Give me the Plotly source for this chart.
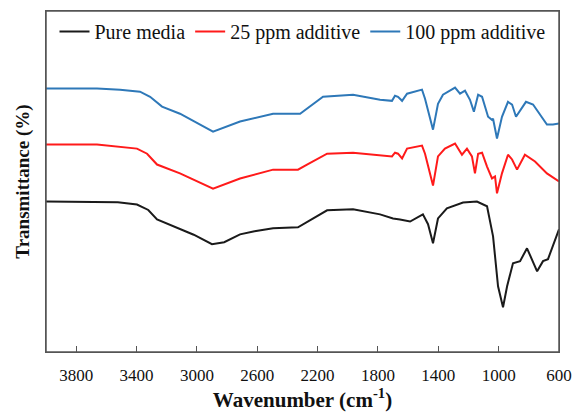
import plotly.graph_objects as go

# Wavenumber (cm-1) and transmittance (arbitrary %, offset curves)
pure_wn = [4000, 3642, 3524, 3397, 3322, 3264, 3158, 3021, 2900, 2819, 2714, 2618, 2495, 2330, 2137, 1965, 1786,
           1700, 1654, 1587, 1502, 1468, 1435, 1402, 1343, 1236, 1144, 1077, 1037, 1004, 971, 944, 905, 858, 812,
           745, 706, 673, 600]
pure_t = [43.8, 43.8, 43.6, 42.9, 41.3, 38.5, 36.5, 34.0, 31.2, 31.8, 34.1, 35.0, 35.9, 36.2, 41.2, 41.5, 40.0,
          38.8, 38.5, 37.9, 40.0, 37.1, 31.5, 38.8, 41.8, 43.5, 43.8, 42.4, 33.5, 18.8, 12.6, 18.8, 25.6, 26.2, 30.0,
          23.2, 26.2, 26.8, 35.6]

ppm25_wn = [4000, 3662, 3397, 3330, 3264, 3112, 2893, 2714, 2495, 2330, 2270, 2137, 1965, 1786, 1707, 1687, 1667,
            1640, 1607, 1508, 1488, 1435, 1402, 1356, 1289, 1243, 1210, 1177, 1157, 1136, 1110, 1077, 1044, 1024,
            1011, 978, 938, 911, 878, 826, 759, 680, 600]
ppm25_t = [60.6, 60.6, 59.4, 57.9, 54.7, 52.1, 47.6, 50.6, 53.2, 53.2, 54.7, 57.9, 58.2, 57.4, 57.1, 58.2, 57.9,
           56.5, 59.4, 60.3, 57.9, 48.5, 57.1, 59.4, 60.9, 57.6, 59.4, 57.1, 52.1, 57.9, 58.2, 54.1, 50.6, 51.2,
           46.2, 52.1, 57.6, 56.2, 53.2, 57.6, 55.6, 52.1, 49.7]

ppm100_wn = [4000, 3662, 3509, 3377, 3310, 3231, 3112, 2893, 2714, 2495, 2316, 2270, 2164, 1965, 1786, 1707, 1687,
             1667, 1640, 1607, 1508, 1488, 1435, 1402, 1369, 1289, 1256, 1223, 1190, 1164, 1136, 1110, 1070, 1044,
             1037, 1011, 978, 938, 911, 885, 819, 772, 680, 640, 600]
ppm100_t = [77.1, 77.1, 76.8, 76.2, 74.7, 71.8, 69.7, 64.4, 67.4, 69.7, 69.7, 71.2, 74.7, 75.3, 73.8, 73.5, 75.0,
            74.7, 73.5, 75.6, 76.8, 74.1, 65.0, 72.6, 75.3, 77.4, 75.6, 76.5, 73.8, 70.3, 75.3, 74.7, 68.8, 67.9,
            68.2, 62.4, 68.8, 73.2, 72.4, 68.8, 73.2, 72.4, 66.5, 66.5, 66.8]

series_names = ["Pure media", "25 ppm additive", "100 ppm additive"]
tick_vals = [3800, 3400, 3000, 2600, 2200, 1800, 1400, 1000, 600]

font = "Liberation Serif"

fig = go.Figure()
for name, xs, ys, col in [
    (series_names[0], pure_wn, pure_t, "#1a1a1a"),
    (series_names[1], ppm25_wn, ppm25_t, "#ff1a1a"),
    (series_names[2], ppm100_wn, ppm100_t, "#2e78b8"),
]:
    fig.add_trace(go.Scatter(x=xs, y=ys, mode="lines", name=name,
                             line=dict(color=col, width=2)))

# frame around the plotting area
fig.add_shape(type="rect", xref="paper", yref="paper", x0=0, y0=0, x1=1, y1=1,
              line=dict(color="#555555", width=1.5), layer="above")

# page body has an 8px default margin, so the figure is 8px smaller each way
fig.update_layout(
    width=576, height=410,
    margin=dict(l=38, r=25, t=3, b=66),
    paper_bgcolor="white", plot_bgcolor="white",
    font=dict(family=font, color="#111111"),
    showlegend=True,
    legend=dict(orientation="h", x=0.5, xanchor="center", y=0.94, yanchor="middle",
                font=dict(size=20, family=font, color="#111111"),
                bgcolor="rgba(0,0,0,0)", itemwidth=30, tracegroupgap=0),
    xaxis=dict(range=[4000, 600], tickvals=tick_vals, ticktext=[str(v) for v in tick_vals],
               ticks="inside", ticklen=6, tickcolor="#555555", showgrid=False, zeroline=False,
               showline=True, linecolor="#555555", linewidth=1, mirror=True,
               ticklabelstandoff=8,
               tickfont=dict(size=17, family=font, color="#111111"),
               title=dict(text="<b>Wavenumber (cm<sup>-1</sup>)</b>", font=dict(size=21, family=font),
                          standoff=6)),
    yaxis=dict(range=[-0.6, 100], showticklabels=False, ticks="", showgrid=False, zeroline=False,
               showline=True, linecolor="#555555", linewidth=1, mirror=True,
               title=dict(text="<b>Transmittance (%)</b>", font=dict(size=19, family=font),
                          standoff=10)),
)

fig.write_html("out.html")
